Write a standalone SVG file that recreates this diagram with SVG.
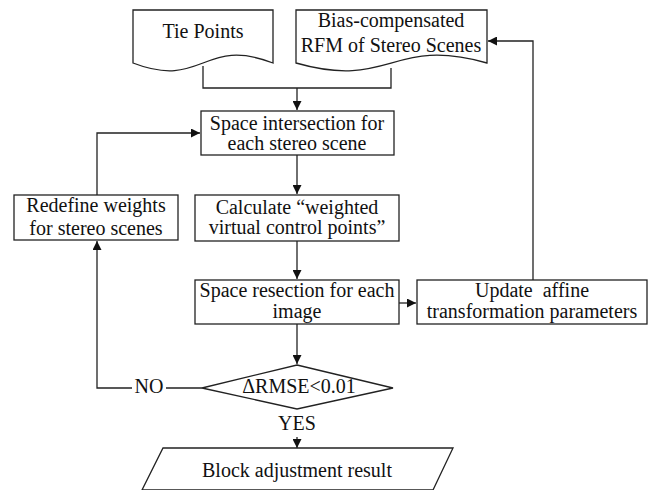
<svg xmlns="http://www.w3.org/2000/svg" width="656" height="490" viewBox="0 0 656 490">
<style>
.s{fill:#fff;stroke:#222;stroke-width:1.3}
.t{font-family:"Liberation Serif","Times New Roman",serif;font-size:20px;fill:#111;text-anchor:middle}
.c{fill:none;stroke:#222;stroke-width:1.3}
</style>
<defs>
<marker id="a" viewBox="0 0 10 10" refX="10" refY="5" markerWidth="9" markerHeight="9" markerUnits="userSpaceOnUse" orient="auto">
<path d="M0,0 L10,5 L0,10 z" fill="#111"/>
</marker>
</defs>
<rect width="656" height="490" fill="#fff"/>
<g id="connectors">
<path class="c" d="M203,66 V88 H391 V68"/>
<path class="c" d="M297,88 V110" marker-end="url(#a)"/>
<path class="c" d="M297,155 V194" marker-end="url(#a)"/>
<path class="c" d="M297,241 V279" marker-end="url(#a)"/>
<path class="c" d="M297,324 V364" marker-end="url(#a)"/>
<path class="c" d="M399,303 H416" marker-end="url(#a)"/>
<path class="c" d="M533,280 V41 H488" marker-end="url(#a)"/>
<path class="c" d="M202,388 H166 M132,388 H97 V241" marker-end="url(#a)"/>
<path class="c" d="M97,195 V133 H200" marker-end="url(#a)"/>
<path class="c" d="M297,437 V448" marker-end="url(#a)"/>
</g>
<g id="tie-points">
<path class="s" d="M133,10 H273 V63 C203,36 203,90 133,63 Z"/>
<text class="t" x="203" y="38">Tie Points</text>
</g>
<g id="bias-rfm">
<path class="s" d="M296,10 H487 V63 C391,36 391,90 296,63 Z"/>
<text class="t" x="391" y="27">Bias-compensated</text>
<text class="t" x="391" y="52">RFM of Stereo Scenes</text>
</g>
<g id="space-intersection">
<rect class="s" x="201" y="111" width="193" height="44"/>
<text class="t" x="297" y="130">Space intersection for</text>
<text class="t" x="297" y="150">each stereo scene</text>
</g>
<g id="calculate">
<rect class="s" x="195" y="195" width="204" height="46"/>
<text class="t" x="297" y="214">Calculate “weighted</text>
<text class="t" x="297" y="234">virtual control points”</text>
</g>
<g id="redefine">
<rect class="s" x="14" y="195" width="164" height="45"/>
<text class="t" x="96" y="212">Redefine weights</text>
<text class="t" x="96" y="235">for stereo scenes</text>
</g>
<g id="space-resection">
<rect class="s" x="195" y="280" width="204" height="44"/>
<text class="t" x="297" y="297">Space resection for each</text>
<text class="t" x="297" y="318">image</text>
</g>
<g id="update">
<rect class="s" x="417" y="280" width="230" height="44"/>
<text class="t" x="532" y="297" xml:space="preserve">Update  affine</text>
<text class="t" x="532" y="318">transformation parameters</text>
</g>
<g id="decision">
<path class="s" d="M297,365 L393,388 L297,409 L202,388 Z"/>
<text class="t" x="299" y="393">ΔRMSE&lt;0.01</text>
<text class="t" x="149" y="393">NO</text>
<text class="t" x="297" y="430">YES</text>
</g>
<g id="result">
<path class="s" d="M163,448 H453 L433,490 H142 Z"/>
<text class="t" x="297" y="477">Block adjustment result</text>
</g>
</svg>
